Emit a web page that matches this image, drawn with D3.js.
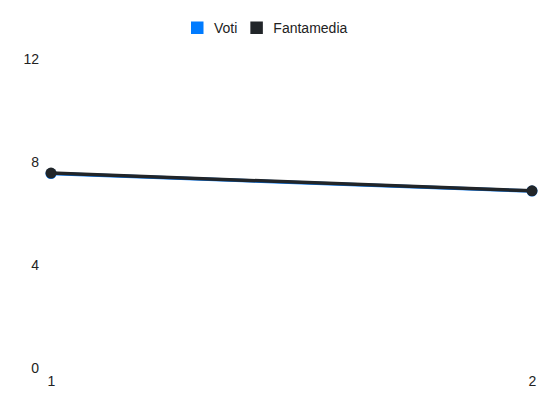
<!DOCTYPE html>
<html>
<head>
<meta charset="utf-8">
<script src="https://cdn.jsdelivr.net/npm/d3@7"></script>
<style>
  body { margin: 0; background: #fff; }
  svg { display: block; font-family: "Liberation Sans", Arial, sans-serif; }
</style>
</head>
<body>
<script>
// giornate (asse x)
const giornate = [1, 2];
// valori delle due serie
const voti = [7.55, 6.87];
const fantamedia = [7.57, 6.88];
// etichette asse y
const yTicks = [0, 4, 8, 12];

const series = [
    { name: 'Voti', values: voti, color: '#007bff' },
    { name: 'Fantamedia', values: fantamedia, color: '#212529' }
];

const width = 550;
const height = 412;
const margin = { top: 59, right: 18, bottom: 44, left: 51 };

const svg = d3.select('body').append('svg')
    .attr('width', width)
    .attr('height', height);

const xScale = d3.scaleLinear()
    .domain([1, 2])
    .range([margin.left, width - margin.right]);

const yScale = d3.scaleLinear()
    .domain([0, 12])
    .range([height - margin.bottom, margin.top]);

// asse y, solo etichette
const yAxis = svg.append('g')
    .attr('transform', `translate(${margin.left - 12},0)`)
    .call(d3.axisLeft(yScale).tickValues(yTicks).tickSize(0).tickPadding(0));
yAxis.select('.domain').remove();
yAxis.selectAll('text')
    .attr('font-size', 14)
    .attr('fill', '#222')
    .style('font-family', '"Liberation Sans", Arial, sans-serif');

// asse x, solo etichette
const xAxis = svg.append('g')
    .attr('transform', `translate(0,${height - margin.bottom + 6})`)
    .call(d3.axisBottom(xScale).tickValues(giornate).tickFormat(d3.format('d')).tickSize(0).tickPadding(2));
xAxis.select('.domain').remove();
xAxis.selectAll('text')
    .attr('font-size', 14)
    .attr('fill', '#222')
    .style('font-family', '"Liberation Sans", Arial, sans-serif');

const line = d3.line()
    .x((d, i) => xScale(giornate[i]))
    .y(d => yScale(d));

series.forEach(s => {
    svg.append('path')
        .datum(s.values)
        .attr('fill', 'none')
        .attr('stroke', s.color)
        .attr('stroke-width', 3.5)
        .attr('d', line);

    svg.selectAll(null)
        .data(s.values)
        .enter()
        .append('circle')
        .attr('cx', (d, i) => xScale(giornate[i]))
        .attr('cy', d => yScale(d))
        .attr('r', 5.5)
        .attr('fill', s.color);
});

// legenda
const legend = svg.append('g');
let lx = 191;
series.forEach(s => {
    legend.append('rect')
        .attr('x', lx)
        .attr('y', 21.5)
        .attr('width', 12.5)
        .attr('height', 12.5)
        .attr('fill', s.color);
    const t = legend.append('text')
        .attr('x', lx + 23)
        .attr('y', 32.5)
        .attr('font-size', 14)
        .attr('fill', '#222')
        .text(s.name);
    lx += 23 + t.node().getComputedTextLength() + 13;
});
</script>
</body>
</html>
